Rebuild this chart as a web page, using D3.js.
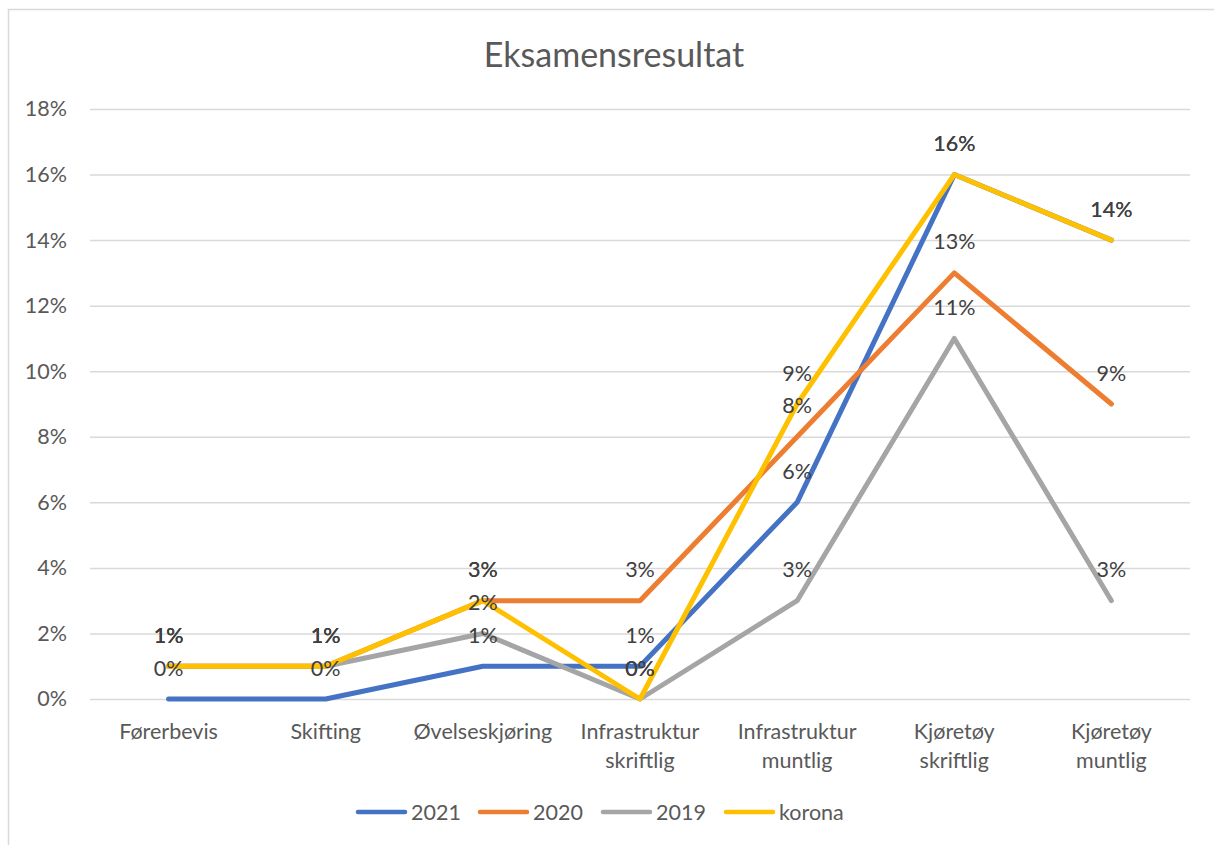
<!DOCTYPE html>
<html>
<head>
<meta charset="utf-8">
<script src="https://cdn.jsdelivr.net/npm/d3@7"></script>
<style>
  body { margin: 0; background: #fff; }
  svg { font-family: Lato, "Open Sans", sans-serif; }
</style>
</head>
<body>
<script>
// kategorier og serier, lest av figuren
const categories = ["Førerbevis", "Skifting", "Øvelseskjøring", "Infrastruktur skriftlig",
    "Infrastruktur muntlig", "Kjøretøy skriftlig", "Kjøretøy muntlig"];
const categoryLines = [["Førerbevis"], ["Skifting"], ["Øvelseskjøring"], ["Infrastruktur", "skriftlig"],
    ["Infrastruktur", "muntlig"], ["Kjøretøy", "skriftlig"], ["Kjøretøy", "muntlig"]];
const seriesNames = ["2021", "2020", "2019", "korona"];
const values2021 = [0, 0, 0.01, 0.01, 0.06, 0.16, 0.14];
const values2020 = [0.01, 0.01, 0.03, 0.03, 0.08, 0.13, 0.09];
const values2019 = [0.01, 0.01, 0.02, 0, 0.03, 0.11, 0.03];
const valuesKorona = [0.01, 0.01, 0.03, 0, 0.09, 0.16, 0.14];
const yTicks = [0, 0.02, 0.04, 0.06, 0.08, 0.10, 0.12, 0.14, 0.16, 0.18];

const COLORS = {
    "2021": "#4472C4",
    "2020": "#ED7D31",
    "2019": "#A5A5A5",
    "korona": "#FFC000",
    GRID: "#D9D9D9",
    AXIS_TEXT: "#595959",
    LABEL_TEXT: "#404040"
};

const width = 1214, height = 845;
const margin = {left: 90, right: 24, top: 109, bottom: 146};
const fontSize = "21.5px";

const series = seriesNames.map((name, i) => ({
    name: name,
    values: [values2021, values2020, values2019, valuesKorona][i]
}));

const svg = d3.select("body").append("svg")
    .attr("width", width)
    .attr("height", height);

// ramme rundt diagrammet
svg.append("rect")
    .attr("x", 8.5).attr("y", 9.5)
    .attr("width", width + 20).attr("height", height + 20)
    .attr("fill", "#fff")
    .attr("stroke", "#D9D9D9")
    .attr("stroke-width", 1.5);

const x = d3.scalePoint()
    .domain(categories)
    .range([margin.left, width - margin.right])
    .padding(0.5);

const y = d3.scaleLinear()
    .domain([0, 0.18])
    .range([height - margin.bottom, margin.top]);

svg.append("text")
    .attr("x", 614)
    .attr("y", 55)
    .attr("dy", "0.35em")
    .attr("text-anchor", "middle")
    .attr("fill", COLORS.AXIS_TEXT)
    .style("font-size", "34px")
    .text("Eksamensresultat");

// y-akse med rutenett
const yAxis = svg.append("g")
    .attr("transform", `translate(${margin.left},0)`)
    .call(d3.axisLeft(y)
        .tickValues(yTicks)
        .tickFormat(d3.format(".0%"))
        .tickSize(-(width - margin.left - margin.right))
        .tickPadding(23));
yAxis.select(".domain").remove();
yAxis.selectAll(".tick line")
    .attr("stroke", COLORS.GRID)
    .attr("stroke-width", 1.5);
yAxis.selectAll(".tick text")
    .attr("fill", COLORS.AXIS_TEXT)
    .style("font-size", fontSize)
    .style("font-family", "Lato, sans-serif");

// x-akse etiketter
const xLabels = svg.append("g");
categories.forEach((c, i) => {
    const t = xLabels.append("text")
        .attr("x", x(c))
        .attr("y", 731)
        .attr("text-anchor", "middle")
        .attr("fill", COLORS.AXIS_TEXT)
        .style("font-size", fontSize);
    categoryLines[i].forEach((line, j) => {
        t.append("tspan")
            .attr("x", x(c))
            .attr("dy", j === 0 ? "0.35em" : "29px")
            .text(line);
    });
});

const line = d3.line()
    .x((d, i) => x(categories[i]))
    .y(d => y(d));

svg.append("g").selectAll("path")
    .data(series)
    .join("path")
    .attr("d", d => line(d.values))
    .attr("fill", "none")
    .attr("stroke", d => COLORS[d.name])
    .attr("stroke-width", 5)
    .attr("stroke-linejoin", "round")
    .attr("stroke-linecap", "round");

// dataetiketter over punktene
series.forEach(s => {
    svg.append("g").selectAll("text")
        .data(s.values)
        .join("text")
        .attr("x", (d, i) => x(categories[i]))
        .attr("y", d => y(d) - 31)
        .attr("dy", "0.35em")
        .attr("text-anchor", "middle")
        .attr("fill", COLORS.LABEL_TEXT)
        .style("font-size", fontSize)
        .text(d => d3.format(".0%")(d));
});

// forklaring
const legendX = [358, 480, 603, 726];
const legend = svg.append("g");
series.forEach((s, i) => {
    legend.append("line")
        .attr("x1", legendX[i]).attr("x2", legendX[i] + 47)
        .attr("y1", 812).attr("y2", 812)
        .attr("stroke", COLORS[s.name])
        .attr("stroke-width", 4.5)
        .attr("stroke-linecap", "round");
    legend.append("text")
        .attr("x", legendX[i] + 53)
        .attr("y", 812)
        .attr("dy", "0.35em")
        .attr("fill", COLORS.AXIS_TEXT)
        .style("font-size", fontSize)
        .text(s.name);
});
</script>
</body>
</html>
